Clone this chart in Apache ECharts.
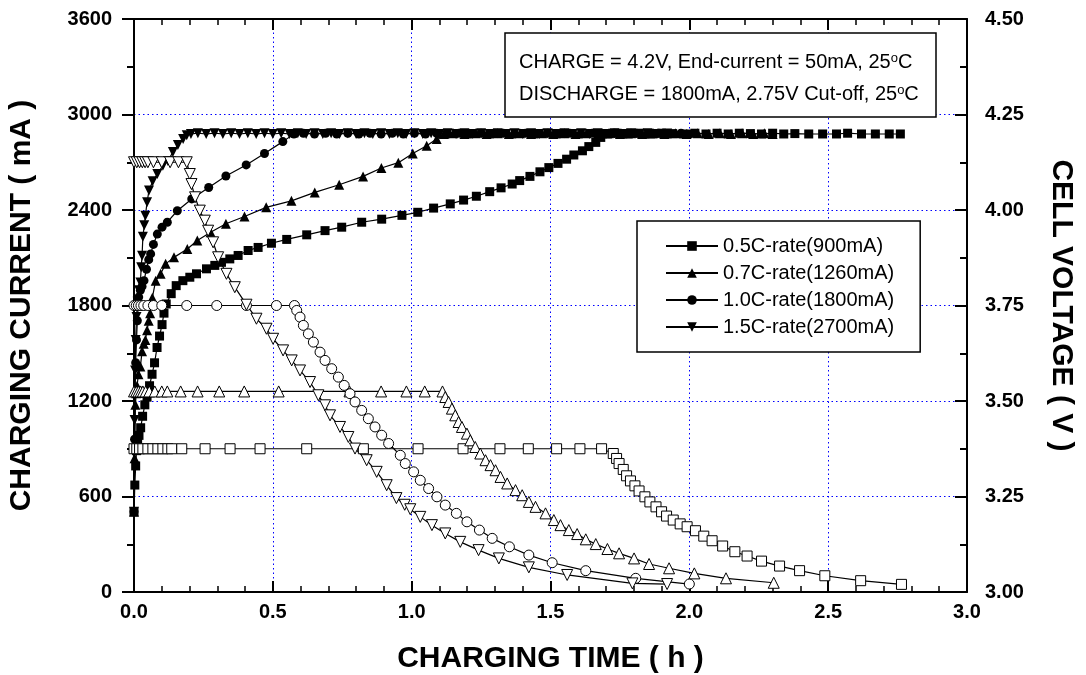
<!DOCTYPE html>
<html>
<head>
<meta charset="utf-8">
<script src="https://cdn.jsdelivr.net/npm/echarts@6/dist/echarts.min.js"></script>
<style>html,body{margin:0;padding:0;background:#fff}#c{width:1086px;height:675px}</style>
</head>
<body>
<div id="c"></div>
<script>
// ---------- DATA ----------
const xTicks = [0, 0.5, 1.0, 1.5, 2.0, 2.5, 3.0];
const leftTicks = [0, 600, 1200, 1800, 2400, 3000, 3600];
const rightTicks = [3.00, 3.25, 3.50, 3.75, 4.00, 4.25, 4.50];
const legendNames = ['0.5C-rate(900mA)', '0.7C-rate(1260mA)', '1.0C-rate(1800mA)', '1.5C-rate(2700mA)'];
const boxLines = ['CHARGE = 4.2V, End-current = 50mA, 25{s|o}C', 'DISCHARGE = 1800mA, 2.75V Cut-off, 25{s|o}C'];

// cell voltage [h, V] (filled markers, right axis)
const volt05 = [[0,3.21],[0.003,3.28],[0.006,3.33],[0.009,3.37],[0.013,3.39],[0.018,3.41],[0.024,3.43],[0.031,3.46],[0.039,3.49],[0.047,3.51],[0.056,3.54],[0.065,3.57],[0.074,3.60],[0.083,3.64],[0.092,3.67],[0.101,3.70],[0.108,3.73],[0.116,3.754],[0.134,3.781],[0.152,3.802],[0.176,3.815],[0.201,3.824],[0.225,3.833],[0.261,3.846],[0.291,3.855],[0.315,3.863],[0.345,3.872],[0.375,3.881],[0.411,3.894],[0.447,3.902],[0.495,3.913],[0.550,3.923],[0.622,3.935],[0.688,3.946],[0.748,3.955],[0.820,3.968],[0.892,3.976],[0.965,3.986],[1.022,3.994],[1.079,4.005],[1.139,4.016],[1.187,4.026],[1.233,4.036],[1.281,4.048],[1.322,4.058],[1.362,4.068],[1.389,4.077],[1.426,4.088],[1.462,4.100],[1.494,4.111],[1.527,4.122],[1.558,4.133],[1.584,4.144],[1.615,4.155],[1.638,4.166],[1.663,4.177],[1.681,4.190],[1.705,4.199],[1.74,4.201],[1.78,4.199],[1.82,4.201],[1.86,4.199],[1.90,4.201],[1.94,4.200],[1.98,4.199],[2.02,4.201],[2.06,4.199],[2.10,4.201],[2.14,4.199],[2.18,4.201],[2.22,4.200],[2.26,4.199],[2.30,4.201],[2.34,4.199],[2.38,4.200],[2.43,4.199],[2.48,4.199],[2.53,4.199],[2.57,4.201],[2.62,4.199],[2.67,4.199],[2.72,4.199],[2.76,4.199]];
const volt07 = [[0,3.21],[0.002,3.35],[0.005,3.49],[0.008,3.52],[0.011,3.54],[0.016,3.57],[0.023,3.59],[0.029,3.63],[0.035,3.65],[0.041,3.66],[0.047,3.685],[0.053,3.71],[0.058,3.73],[0.066,3.77],[0.078,3.815],[0.096,3.833],[0.114,3.859],[0.144,3.876],[0.192,3.898],[0.228,3.920],[0.276,3.942],[0.331,3.964],[0.398,3.983],[0.476,4.007],[0.567,4.024],[0.651,4.046],[0.739,4.066],[0.825,4.088],[0.891,4.110],[0.952,4.124],[1.004,4.148],[1.054,4.168],[1.090,4.186],[1.116,4.199],[1.15,4.201],[1.19,4.199],[1.23,4.201],[1.27,4.199],[1.31,4.201],[1.35,4.199],[1.39,4.201],[1.43,4.199],[1.47,4.201],[1.51,4.199],[1.55,4.201],[1.59,4.199],[1.63,4.201],[1.67,4.199],[1.71,4.201],[1.75,4.199],[1.79,4.201],[1.83,4.199],[1.87,4.201],[1.91,4.199],[1.95,4.201],[1.99,4.199],[2.03,4.201],[2.07,4.199],[2.11,4.201],[2.15,4.199],[2.19,4.201],[2.23,4.199],[2.27,4.201],[2.30,4.199]];
const volt10 = [[0,3.21],[0.002,3.40],[0.004,3.52],[0.006,3.60],[0.009,3.66],[0.012,3.71],[0.017,3.772],[0.023,3.79],[0.029,3.80],[0.036,3.815],[0.045,3.845],[0.053,3.870],[0.060,3.885],[0.070,3.91],[0.084,3.937],[0.101,3.955],[0.120,3.968],[0.156,3.998],[0.208,4.029],[0.269,4.059],[0.331,4.089],[0.404,4.118],[0.470,4.148],[0.536,4.179],[0.576,4.199],[0.61,4.201],[0.65,4.199],[0.69,4.201],[0.73,4.199],[0.77,4.201],[0.81,4.199],[0.85,4.201],[0.89,4.199],[0.93,4.201],[0.97,4.199],[1.01,4.201],[1.05,4.199],[1.09,4.201],[1.13,4.199],[1.17,4.201],[1.21,4.199],[1.25,4.201],[1.29,4.199],[1.33,4.201],[1.37,4.199],[1.41,4.201],[1.45,4.199],[1.49,4.201],[1.53,4.199],[1.57,4.201],[1.61,4.199],[1.65,4.201],[1.69,4.199],[1.73,4.201],[1.77,4.199],[1.81,4.201],[1.85,4.199],[1.89,4.201],[1.93,4.199],[1.97,4.201],[2.00,4.199]];
const volt15 = [[0,3.21],[0.002,3.45],[0.004,3.58],[0.006,3.66],[0.009,3.72],[0.013,3.76],[0.018,3.79],[0.023,3.81],[0.026,3.85],[0.029,3.88],[0.032,3.93],[0.037,3.96],[0.041,3.985],[0.047,4.02],[0.054,4.051],[0.067,4.075],[0.084,4.094],[0.104,4.116],[0.122,4.128],[0.140,4.152],[0.158,4.170],[0.177,4.186],[0.190,4.196],[0.205,4.199],[0.23,4.201],[0.26,4.199],[0.29,4.201],[0.32,4.199],[0.35,4.201],[0.38,4.199],[0.41,4.201],[0.44,4.199],[0.47,4.201],[0.50,4.199],[0.53,4.201],[0.56,4.199],[0.59,4.201],[0.62,4.199],[0.65,4.201],[0.68,4.199],[0.71,4.201],[0.74,4.199],[0.77,4.201],[0.80,4.199],[0.83,4.201],[0.86,4.199],[0.89,4.201],[0.92,4.199],[0.95,4.201],[0.98,4.199],[1.01,4.201],[1.04,4.199],[1.07,4.201],[1.10,4.199],[1.13,4.201],[1.16,4.199],[1.19,4.201],[1.22,4.199],[1.25,4.201],[1.28,4.199],[1.31,4.201],[1.34,4.199],[1.37,4.201],[1.40,4.199],[1.43,4.201],[1.46,4.199],[1.49,4.201],[1.52,4.199],[1.55,4.201],[1.58,4.199],[1.61,4.201],[1.64,4.199],[1.67,4.201],[1.70,4.199],[1.73,4.201],[1.76,4.199],[1.79,4.201],[1.82,4.199],[1.85,4.201],[1.88,4.199],[1.92,4.200]];

// charging current [h, mA] (open markers, left axis)
const curr05 = [[0,900],[0.010,900],[0.020,900],[0.032,900],[0.050,900],[0.068,900],[0.086,900],[0.104,900],[0.122,900],[0.136,900],[0.172,900],[0.256,900],[0.346,900],[0.454,900],[0.622,900],[0.826,900],[1.023,900],[1.185,900],[1.318,900],[1.420,900],[1.522,900],[1.606,900],[1.684,900],[1.726,870],[1.738,839],[1.747,807],[1.762,770],[1.774,730],[1.788,698],[1.804,667],[1.819,635],[1.840,598],[1.858,566],[1.880,535],[1.900,504],[1.918,477],[1.942,452],[1.967,428],[1.992,410],[2.022,385],[2.052,351],[2.082,322],[2.120,289],[2.164,253],[2.208,226],[2.260,194],[2.325,163],[2.397,134],[2.488,102],[2.617,71],[2.764,48]];
const curr07 = [[0,1260],[0.008,1260],[0.016,1260],[0.024,1260],[0.032,1260],[0.042,1260],[0.055,1260],[0.075,1260],[0.100,1260],[0.120,1260],[0.168,1260],[0.229,1260],[0.307,1260],[0.397,1260],[0.521,1260],[0.776,1260],[0.890,1260],[0.981,1260],[1.047,1260],[1.111,1260],[1.121,1225],[1.133,1194],[1.145,1152],[1.157,1110],[1.169,1068],[1.181,1037],[1.199,995],[1.211,953],[1.229,911],[1.247,870],[1.266,828],[1.284,797],[1.302,765],[1.320,723],[1.344,682],[1.374,640],[1.398,608],[1.422,566],[1.446,535],[1.482,494],[1.512,452],[1.536,420],[1.566,389],[1.596,364],[1.627,331],[1.663,301],[1.705,270],[1.747,243],[1.801,211],[1.855,176],[1.927,149],[2.018,117],[2.132,86],[2.304,58]];
const curr10 = [[0,1800],[0.008,1800],[0.016,1800],[0.025,1800],[0.035,1800],[0.050,1800],[0.070,1800],[0.100,1800],[0.190,1800],[0.298,1800],[0.405,1800],[0.513,1800],[0.578,1800],[0.586,1769],[0.598,1727],[0.610,1675],[0.628,1622],[0.646,1570],[0.670,1507],[0.688,1455],[0.712,1403],[0.736,1350],[0.757,1298],[0.778,1246],[0.796,1194],[0.820,1141],[0.844,1089],[0.868,1037],[0.892,985],[0.917,933],[0.959,859],[0.977,807],[1.007,755],[1.031,702],[1.061,650],[1.091,598],[1.121,546],[1.161,494],[1.199,441],[1.244,389],[1.290,337],[1.352,284],[1.422,232],[1.506,184],[1.627,134],[1.807,86],[2.000,50]];
const curr15 = [[0,2700],[0.010,2700],[0.020,2700],[0.030,2700],[0.040,2700],[0.050,2700],[0.070,2700],[0.100,2700],[0.130,2700],[0.160,2700],[0.190,2700],[0.201,2626],[0.207,2563],[0.220,2480],[0.237,2396],[0.255,2333],[0.267,2270],[0.285,2197],[0.303,2103],[0.333,1999],[0.363,1915],[0.405,1805],[0.441,1717],[0.477,1654],[0.501,1591],[0.537,1518],[0.568,1455],[0.598,1392],[0.634,1319],[0.664,1236],[0.688,1173],[0.706,1110],[0.742,1037],[0.772,974],[0.796,901],[0.838,828],[0.874,755],[0.910,671],[0.945,590],[0.975,548],[0.995,520],[1.031,472],[1.073,420],[1.121,368],[1.175,315],[1.241,263],[1.314,211],[1.422,155],[1.560,107],[1.795,54],[1.920,50]];

// ---------- CHART ----------
const FONT = 'Arial, "Liberation Sans", sans-serif';
const downTri = 'path://M0,0L10,0L5,9Z';
const chart = echarts.init(document.getElementById('c'), null, {renderer: 'canvas'});

function voltSeries(name, data, symbol, size) {
  return {name, type: 'line', yAxisIndex: 1, data, symbol, symbolSize: size,
    lineStyle: {color: '#000', width: 1.2}, itemStyle: {color: '#000', borderWidth: 0}, z: 3};
}
function currSeries(name, data, symbol, size) {
  return {name, type: 'line', yAxisIndex: 0, data, symbol, symbolSize: size,
    lineStyle: {color: '#000', width: 1.2}, itemStyle: {color: '#fff', borderColor: '#000', borderWidth: 1}, z: 4};
}

const axisLine = {show: true, onZero: false, lineStyle: {color: '#000', width: 2}};
const blueGrid = {show: true, lineStyle: {color: '#0000ff', type: [1.5, 3], width: 1}};
const labelStyle = {color: '#000', fontFamily: FONT, fontWeight: 'bold', fontSize: 20};
const nameStyle = {color: '#000', fontFamily: FONT, fontWeight: 'bold', fontSize: 30};

chart.setOption({
  animation: false,
  backgroundColor: '#fff',
  grid: {left: 134, right: 119, top: 19, bottom: 83, containLabel: false, outerBoundsMode: 'none'},
  legend: {
    data: legendNames, orient: 'vertical', left: 637, top: 221,
    backgroundColor: '#fff', borderColor: '#000', borderWidth: 1.5,
    padding: [15, 26, 15, 28], itemGap: 7, itemWidth: 52, itemHeight: 12,
    textStyle: {fontFamily: FONT, fontSize: 20, color: '#000'}
  },
  xAxis: [
    {type: 'value', min: xTicks[0], max: xTicks[xTicks.length - 1], interval: 0.5, position: 'bottom',
     axisLine, axisTick: {show: true, inside: true, length: 11, lineStyle: {color: '#000', width: 2}},
     minorTick: {show: true, splitNumber: 5, length: 6, lineStyle: {color: '#000', width: 1.5}},
     axisLabel: Object.assign({margin: 10, formatter: v => v.toFixed(1)}, labelStyle),
     splitLine: blueGrid,
     name: 'CHARGING TIME ( h )', nameLocation: 'middle', nameGap: 52, nameTextStyle: nameStyle},
    {type: 'value', min: xTicks[0], max: xTicks[xTicks.length - 1], interval: 0.5, position: 'top',
     axisLine, axisTick: {show: true, inside: true, length: 11, lineStyle: {color: '#000', width: 2}},
     minorTick: {show: true, splitNumber: 5, length: 6, lineStyle: {color: '#000', width: 1.5}},
     axisLabel: {show: false}, splitLine: {show: false}}
  ],
  yAxis: [
    {type: 'value', min: leftTicks[0], max: leftTicks[leftTicks.length - 1], interval: 600, position: 'left',
     axisLine, axisTick: {show: true, inside: false, length: 12, lineStyle: {color: '#000', width: 2}},
     minorTick: {show: true, splitNumber: 2, length: 7, lineStyle: {color: '#000', width: 2}},
     axisLabel: Object.assign({margin: 22, formatter: v => String(v)}, labelStyle),
     splitLine: blueGrid,
     name: 'CHARGING CURRENT ( mA )', nameLocation: 'middle', nameGap: 97, nameTextStyle: nameStyle},
    {type: 'value', min: rightTicks[0], max: rightTicks[rightTicks.length - 1], interval: 0.25, position: 'right',
     axisLine, axisTick: {show: true, inside: true, length: 12, lineStyle: {color: '#000', width: 2}},
     minorTick: {show: true, splitNumber: 2, length: 7, lineStyle: {color: '#000', width: 2}},
     axisLabel: Object.assign({margin: 18, formatter: v => v.toFixed(2)}, labelStyle),
     splitLine: {show: false},
     name: 'CELL VOLTAGE ( V )', nameLocation: 'middle', nameGap: 79, nameRotate: -90, nameTextStyle: nameStyle}
  ],
  graphic: [
    {type: 'rect', shape: {x: 505, y: 33, width: 431, height: 84}, style: {fill: '#fff', stroke: '#000', lineWidth: 1.5}, z: 100},
    {type: 'text', x: 519, y: 62, z: 101, style: {text: boxLines[0], font: '20px ' + FONT, fill: '#000', verticalAlign: 'middle',
      rich: {s: {fontSize: 13, verticalAlign: 'top', fill: '#000'}}}},
    {type: 'text', x: 519, y: 94, z: 101, style: {text: boxLines[1], font: '20px ' + FONT, fill: '#000', verticalAlign: 'middle',
      rich: {s: {fontSize: 13, verticalAlign: 'top', fill: '#000'}}}}
  ],
  series: [
    currSeries('I05', curr05, 'rect', 10),
    currSeries('I07', curr07, 'triangle', 11),
    currSeries('I10', curr10, 'circle', 10),
    currSeries('I15', curr15, downTri, 11),
    voltSeries(legendNames[0], volt05, 'rect', 9),
    voltSeries(legendNames[1], volt07, 'triangle', 10),
    voltSeries(legendNames[2], volt10, 'circle', 9),
    voltSeries(legendNames[3], volt15, downTri, 10)
  ]
});
</script>
</body>
</html>
